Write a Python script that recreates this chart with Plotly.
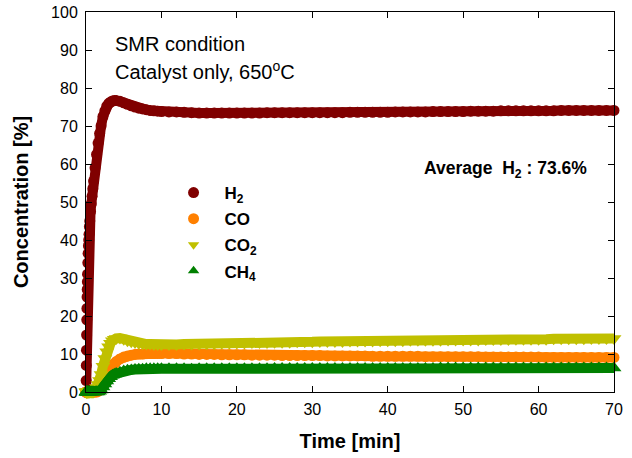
import plotly.graph_objects as go

# Time stamps [min]: dense sampling during start-up, 1-min steps afterwards
time_min = [
    0, 0.02, 0.04, 0.06, 0.08, 0.1, 0.12, 0.14, 0.16, 0.18, 0.2,
    0.24, 0.28, 0.32, 0.36, 0.4, 0.45, 0.5, 0.6, 0.7, 0.8, 0.9, 1.0,
    1.2, 1.4, 1.6, 1.8, 2.0, 2.25, 2.5, 2.75, 3.0, 3.25, 3.5, 3.75, 4.0,
    4.5, 5.0, 5.5, 6.0, 6.5, 7.0, 7.5, 8.0, 8.5, 9.0, 9.5, 10,
    11, 12, 13, 14, 15, 16, 17, 18, 19, 20,
    21, 22, 23, 24, 25, 26, 27, 28, 29, 30,
    31, 32, 33, 34, 35, 36, 37, 38, 39, 40,
    41, 42, 43, 44, 45, 46, 47, 48, 49, 50,
    51, 52, 53, 54, 55, 56, 57, 58, 59, 60,
    61, 62, 63, 64, 65, 66, 67, 68, 69, 70,
]

# Gas concentrations [%]
h2 = [
    0, 3, 7, 11, 15, 19, 22, 25, 27, 29, 31,
    34, 36.5, 38.5, 40, 41.5, 43.5, 45, 47.5, 49.5, 51.5, 53.5, 55.5,
    59, 62.5, 65.5, 68, 70, 72.5, 74, 75.2, 75.9, 76.3, 76.6, 76.7, 76.7,
    76.5, 76.1, 75.7, 75.3, 75.0, 74.7, 74.5, 74.3, 74.1, 74.0, 73.9, 73.8,
    73.7, 73.7, 73.6, 73.5, 73.4, 73.4, 73.4, 73.4, 73.4, 73.4,
    73.4, 73.4, 73.4, 73.5, 73.5, 73.5, 73.5, 73.5, 73.5, 73.5,
    73.5, 73.5, 73.5, 73.5, 73.6, 73.6, 73.6, 73.6, 73.6, 73.6,
    73.7, 73.7, 73.7, 73.7, 73.7, 73.8, 73.8, 73.8, 73.8, 73.8,
    73.9, 73.9, 73.9, 73.9, 74.0, 74.0, 74.0, 74.0, 74.0, 74.0,
    74.0, 74.0, 74.1, 74.1, 74.1, 74.1, 74.1, 74.1, 74.1, 74.1,
]

co = [
    0, 0, 0, 0, 0, 0, 0, 0, 0, 0, 0,
    0, 0, 0, 0, 0, 0, 0, 0, 0, 0, 0, 0,
    0, 0, 0.2, 0.6, 1.2, 2.2, 3.3, 4.4, 5.4, 6.2, 6.9, 7.5, 8.0,
    8.7, 9.2, 9.5, 9.7, 9.9, 10.0, 10.0, 10.1, 10.1, 10.1, 10.1, 10.1,
    10.1, 10.1, 10.0, 10.0, 9.9, 9.9, 9.9, 9.8, 9.8, 9.8,
    9.8, 9.7, 9.7, 9.7, 9.7, 9.6, 9.6, 9.6, 9.6, 9.6,
    9.6, 9.5, 9.5, 9.5, 9.5, 9.5, 9.5, 9.4, 9.4, 9.4,
    9.4, 9.4, 9.4, 9.4, 9.3, 9.3, 9.3, 9.3, 9.3, 9.3,
    9.3, 9.3, 9.2, 9.2, 9.2, 9.2, 9.2, 9.2, 9.2, 9.2,
    9.1, 9.1, 9.1, 9.1, 9.1, 9.1, 9.1, 9.1, 9.1, 9.1,
]

co2 = [
    0, 0, 0, 0, 0, 0, 0, 0, 0, 0, 0,
    0, 0, 0, 0, 0, 0, 0, 0, 0, 0, 0, 0,
    0.5, 1.2, 2.0, 3.0, 4.6, 6.8, 8.8, 10.6, 11.9, 12.8, 13.5, 13.9, 14.1,
    14.2, 13.9, 13.5, 13.2, 13.0, 12.8, 12.7, 12.6, 12.6, 12.5, 12.5, 12.5,
    12.5, 12.5, 12.6, 12.6, 12.6, 12.7, 12.7, 12.8, 12.8, 12.9,
    12.9, 13.0, 13.0, 13.0, 13.1, 13.1, 13.1, 13.2, 13.2, 13.2,
    13.3, 13.3, 13.3, 13.3, 13.4, 13.4, 13.4, 13.4, 13.5, 13.5,
    13.5, 13.5, 13.6, 13.6, 13.6, 13.6, 13.6, 13.7, 13.7, 13.7,
    13.7, 13.7, 13.8, 13.8, 13.8, 13.8, 13.9, 13.9, 13.9, 13.9,
    13.9, 14.0, 14.0, 14.0, 14.0, 14.0, 14.1, 14.1, 14.1, 14.1,
]

ch4 = [
    0, 0, 0, 0, 0, 0, 0, 0, 0, 0, 0,
    0, 0, 0, 0, 0, 0, 0, 0, 0, 0, 0, 0,
    0, 0, 0, 0.2, 0.5, 1.3, 2.1, 2.9, 3.5, 4.0, 4.4, 4.7, 4.9,
    5.2, 5.5, 5.7, 5.8, 5.9, 6.0, 6.0, 6.1, 6.1, 6.1, 6.1, 6.1,
    6.1, 6.1, 6.1, 6.0, 6.1, 6.1, 6.1, 6.1, 6.1, 6.1,
    6.1, 6.1, 6.1, 6.1, 6.2, 6.2, 6.2, 6.2, 6.2, 6.2,
    6.2, 6.2, 6.2, 6.2, 6.2, 6.2, 6.2, 6.2, 6.2, 6.2,
    6.2, 6.2, 6.2, 6.2, 6.2, 6.2, 6.3, 6.3, 6.3, 6.3,
    6.3, 6.3, 6.3, 6.3, 6.3, 6.3, 6.3, 6.3, 6.3, 6.3,
    6.3, 6.3, 6.3, 6.3, 6.3, 6.3, 6.3, 6.3, 6.3, 6.3,
]

series_names = ["H<sub>2</sub>", "CO", "CO<sub>2</sub>", "CH<sub>4</sub>"]
series_values = [h2, co, co2, ch4]
series_colors = ["#800000", "#FF8000", "#C0C000", "#008000"]
series_symbols = ["circle", "circle", "triangle-down", "triangle-up"]

avg_h2 = 73.6
FONT = "Liberation Sans, Arial, sans-serif"

fig = go.Figure()

for name, vals, color, sym in zip(series_names, series_values, series_colors, series_symbols):
    is_tri = sym.startswith("triangle")
    # thick band of densely packed markers
    fig.add_trace(go.Scatter(
        x=time_min, y=vals, mode="lines+markers",
        line=dict(color=color, width=10),
        marker=dict(symbol=sym, color=color, size=13 if is_tri else 11),
        cliponaxis=False, showlegend=False, legendgroup=name,
    ))
    # legend entry (marker only)
    fig.add_trace(go.Scatter(
        x=[None], y=[None], mode="markers", name=f"<b>{name}</b>",
        marker=dict(symbol=sym, color=color, size=10 if is_tri else 11),
        legendgroup=name, showlegend=True,
    ))

axis_common = dict(
    showline=True, linecolor="black", linewidth=1,
    mirror="ticks", ticks="inside", ticklen=6, tickwidth=1, tickcolor="black",
    showgrid=False, zeroline=False, automargin=False,
    tickfont=dict(family=FONT, size=16, color="black"),
)

fig.update_xaxes(
    range=[0, 70], dtick=10, tick0=0,
    title=dict(text="<b>Time [min]</b>", font=dict(family=FONT, size=20, color="black"), standoff=16),
    ticklabelstandoff=3,
    **axis_common,
)
fig.update_yaxes(
    range=[0, 100], dtick=10, tick0=0,
    title=dict(text="<b>Concentration [%]</b>", font=dict(family=FONT, size=20, color="black"), standoff=17),
    ticklabelstandoff=4,
    **axis_common,
)

fig.add_annotation(
    x=0.052, y=0.916, xref="paper", yref="paper", xanchor="left", yanchor="middle",
    text="SMR condition", showarrow=False,
    font=dict(family=FONT, size=20, color="black"),
)
fig.add_annotation(
    x=0.052, y=0.847, xref="paper", yref="paper", xanchor="left", yanchor="middle",
    text="Catalyst only, 650<sup>o</sup>C", showarrow=False,
    font=dict(family=FONT, size=20, color="black"),
)
fig.add_annotation(
    x=0.636, y=0.585, xref="paper", yref="paper", xanchor="left", yanchor="middle",
    text=f"<b>Average  H<sub>2</sub> : {avg_h2}%</b>", showarrow=False,
    font=dict(family=FONT, size=17.5, color="black"),
)

fig.update_layout(
    width=632, height=458,
    margin=dict(l=86, r=18, t=12, b=66),
    paper_bgcolor="white", plot_bgcolor="white",
    font=dict(family=FONT, color="black"),
    legend=dict(
        x=0.145, y=0.571, xanchor="left", yanchor="top",
        bgcolor="rgba(0,0,0,0)", borderwidth=0,
        font=dict(family=FONT, size=17, color="black"),
        itemwidth=52, tracegroupgap=1,
    ),
)

fig.write_html("out.html")
